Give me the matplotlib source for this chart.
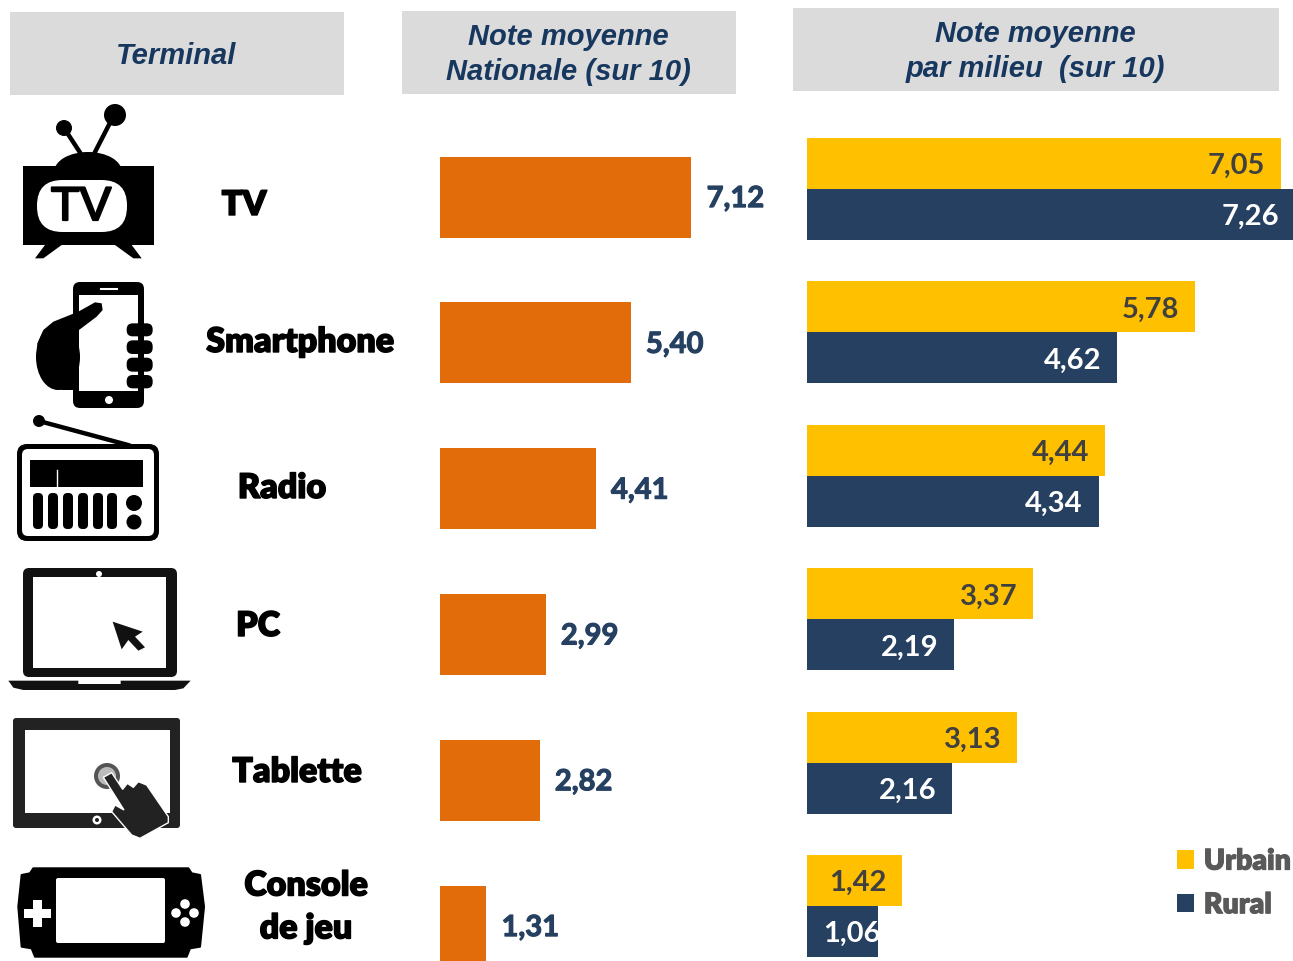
#!/usr/bin/env python3
# -*- coding: utf-8 -*-
"""Notes moyennes par terminal: national et par milieu."""

import numpy as np
import matplotlib
matplotlib.use("Agg")
import matplotlib.pyplot as plt
import matplotlib.patheffects as pe
from matplotlib.patches import Rectangle, FancyBboxPatch, Circle, Ellipse, Polygon

W, H = 1293, 961

terminals = ["TV", "Smartphone", "Radio", "PC", "Tablette", "Console\nde jeu"]
national = [7.12, 5.40, 4.41, 2.99, 2.82, 1.31]
urbain = [7.05, 5.78, 4.44, 3.37, 3.13, 1.42]
rural = [7.26, 4.62, 4.34, 2.19, 2.16, 1.06]
headers = ["Terminal", "Note moyenne\nNationale (sur 10)", "Note moyenne\npar milieu  (sur 10)"]

ORANGE = "#E36C0A"
YELLOW = "#FFC000"
NAVY = "#264061"
GREY_BG = "#DBDBDB"
HEAD_TXT = "#17375E"
FONT = "Lato"


def to_fig(ax_left, ax_right):
    return [ax_left / W, 0, (ax_right - ax_left) / W, 1]


def thick(w, color):
    return [pe.withStroke(linewidth=w, foreground=color)]


def rrect(ax, x0, y0, x1, y1, r, color, z=2):
    ax.add_patch(FancyBboxPatch((x0 + r, y0 + r), x1 - x0 - 2 * r, y1 - y0 - 2 * r,
                                boxstyle=f"round,pad={r},rounding_size={r}",
                                fc=color, ec="none", zorder=z))


# иконки рисуются в координатах пикселей, zoom = увеличенные в 3 раза
def zp(pts, oy):
    return [(x / 3, oy + y / 3) for x, y in pts]


def draw_tv(ax):
    ax.add_patch(Rectangle((23, 166), 131, 79, fc="k", zorder=2))
    ax.add_patch(Ellipse((88, 172), 68, 40, fc="k", zorder=2))
    ax.plot([81, 64], [154, 128], color="k", lw=3.2, zorder=2)
    ax.plot([94, 114], [154, 115], color="k", lw=3.2, zorder=2)
    ax.add_patch(Circle((64, 128), 8, fc="k", zorder=2))
    ax.add_patch(Circle((115, 115), 11, fc="k", zorder=2))
    ax.add_patch(Polygon(zp([(135, 450), (185, 450), (130, 490), (105, 490)], 95), fc="k", zorder=2))
    ax.add_patch(Polygon(zp([(345, 450), (395, 450), (425, 490), (400, 490)], 95), fc="k", zorder=2))
    rrect(ax, 37, 180, 127, 232, 25.5, "white", 3)
    ax.text(81, 208, "TV", fontsize=34, family="Liberation Sans", color="k",
            ha="center", va="center", zorder=4, path_effects=thick(1.6, "k"))


def draw_phone(ax):
    rrect(ax, 73, 282, 144, 408, 7, "k")
    ax.add_patch(Rectangle((79, 295), 59, 96, fc="white", zorder=3))
    ax.plot([101, 117], [289, 289], color="white", lw=1.5, zorder=3)
    ax.add_patch(Circle((109, 400), 4, fc="white", zorder=3))
    ax.add_patch(Ellipse((58, 357), 44, 66, fc="k", zorder=4))
    ax.add_patch(Polygon(zp([(235, 650), (285, 622), (305, 625), (308, 645), (290, 665),
                             (237, 705), (237, 885), (185, 885), (140, 860), (112, 800),
                             (112, 745), (130, 705), (160, 680)], 95), fc="k", zorder=4))
    for y0, y1 in [(685, 724), (736, 777), (788, 830), (840, 880)]:
        rrect(ax, 380 / 3, 95 + y0 / 3, 458 / 3, 95 + y1 / 3, 6, "k", 4)


def draw_radio(ax):
    ax.plot([39, 128], [421, 445], color="k", lw=3.2, zorder=2)
    ax.add_patch(Circle((39, 421), 6, fc="k", zorder=2))
    rrect(ax, 17, 444, 159, 541, 10, "k")
    rrect(ax, 22, 449, 154, 536, 6, "white", 3)
    ax.add_patch(Rectangle((30, 460), 113, 27, fc="k", zorder=4))
    ax.plot([57, 57], [470, 487], color="white", lw=1, zorder=5)
    for x in [38, 53, 68, 83, 98, 112]:
        rrect(ax, x - 5, 493, x + 5, 529, 4.5, "k", 4)
    ax.add_patch(Circle((134, 503), 8, fc="k", zorder=4))
    ax.add_patch(Circle((134, 522), 7.5, fc="k", zorder=4))


def draw_laptop(ax):
    rrect(ax, 23, 568, 177, 677, 6, "#111111")
    ax.add_patch(Rectangle((33, 577), 133, 91, fc="white", zorder=3))
    ax.add_patch(Circle((99, 574), 3, fc="white", zorder=4))
    ax.add_patch(Polygon(zp([(25, 812), (235, 812), (235, 822), (362, 822), (362, 812), (572, 812),
                             (550, 835), (525, 840), (70, 840), (40, 833)], 410),
                         fc="#111111", zorder=2))
    ax.add_patch(Polygon(zp([(338, 635), (428, 665), (405, 680), (435, 712), (415, 722),
                             (385, 690), (365, 718)], 410), fc="#111111", zorder=4))


def draw_tablet(ax):
    rrect(ax, 13, 718, 180, 828, 3, "#222222")
    ax.add_patch(Rectangle((25, 730), 145, 83, fc="white", zorder=3))
    ax.add_patch(Circle((97, 820), 4.5, fc="white", zorder=3))
    ax.add_patch(Circle((97, 820), 2, fc="#222222", zorder=3))
    ax.add_patch(Circle((107, 776), 13, fc="#555555", zorder=4))
    ax.add_patch(Circle((107, 776), 9, fc="#bbbbbb", zorder=4))
    ax.add_patch(Polygon(zp([(310, 232), (335, 218), (368, 268), (382, 250), (400, 262),
                             (415, 245), (440, 255), (505, 350), (505, 368), (420, 415),
                             (395, 405), (335, 335), (345, 315), (372, 330)], 700),
                         fc="#222222", ec="white", lw=1, zorder=5))


def draw_console(ax):
    ax.add_patch(Polygon(zp([(100, 505), (565, 505), (575, 520), (600, 525), (612, 620),
                             (600, 740), (570, 745), (560, 770), (105, 770), (95, 745),
                             (65, 740), (55, 620), (65, 525), (90, 520)], 700),
                         fc="k", ec="k", lw=1.5, joinstyle="round", zorder=2))
    rrect(ax, 56, 878, 165, 943, 2, "white", 3)
    ax.add_patch(Rectangle((24, 908.5), 27, 9, fc="white", zorder=3))
    ax.add_patch(Rectangle((33, 899.5), 9, 27, fc="white", zorder=3))
    for cx, cy in [(185, 904), (176, 913), (194, 913), (185, 922)]:
        ax.add_patch(Circle((cx, cy), 4.8, fc="white", zorder=3))


fig = plt.figure(figsize=(W / 100, H / 100), dpi=100, facecolor="white")

# слой в пикселях: заголовки, иконки, подписи
bg = fig.add_axes([0, 0, 1, 1])
bg.set_xlim(0, W)
bg.set_ylim(H, 0)
bg.axis("off")

for (x0, y0, x1, y1), txt in zip([(10, 12, 344, 95), (402, 11, 736, 94), (793, 8, 1279, 91)], headers):
    bg.add_patch(Rectangle((x0, y0), x1 - x0, y1 - y0, fc=GREY_BG, ec="none"))
    bg.text((x0 + x1) / 2 - 0.5, (y0 + y1) / 2 + 2, txt, fontsize=21, family="Liberation Sans",
            fontweight="bold", style="italic", color=HEAD_TXT, ha="center", va="center",
            linespacing=1.36)

for draw in [draw_tv, draw_phone, draw_radio, draw_laptop, draw_tablet, draw_console]:
    draw(bg)

label_pos = [(244, 205), (300, 342), (282, 488), (258, 626), (297, 772), (306, 907)]
for name, (lx, ly) in zip(terminals, label_pos):
    bg.text(lx, ly, name, fontsize=24.5, family=FONT, fontweight="heavy", color="k",
            ha="center", va="center", linespacing=1.42, path_effects=thick(1.0, "k"))

# левая панель: национальная нота
PX_NAT = 35.3
ax1 = fig.add_axes(to_fig(440, 800), facecolor="none")
ax1.set_xlim(0, 360 / PX_NAT)
y_step1 = 145.8
ax1.set_ylim((H - 197) / y_step1, -197 / y_step1)
y1 = np.arange(len(national))
ax1.barh(y1, national, height=81 / y_step1, color=ORANGE)
ax1.axis("off")
for y, v in zip(y1, national):
    ax1.annotate(f"{v:.2f}".replace(".", ","), (v, y), xytext=(11, -1.5), textcoords="offset points",
                 fontsize=21, family=FONT, fontweight="bold", color=NAVY, ha="left", va="center",
                 path_effects=thick(0.8, NAVY))

# правая панель: городская и сельская нота
PX_MIL = 67.2
ax2 = fig.add_axes(to_fig(807, W), facecolor="none")
ax2.set_xlim(0, (W - 807) / PX_MIL)
y_step2 = 143.4
ax2.set_ylim((H - 189) / y_step2, -189 / y_step2)
y2 = np.arange(len(urbain))
bh = 51 / y_step2
b_u = ax2.barh(y2 - bh / 2, urbain, height=bh, color=YELLOW, label="Urbain")
b_r = ax2.barh(y2 + bh / 2, rural, height=bh, color=NAVY, label="Rural")
ax2.axis("off")
for y, v in zip(y2 - bh / 2, urbain):
    ax2.annotate(f"{v:.2f}".replace(".", ","), (v, y), xytext=(-11.5, -2), textcoords="offset points",
                 fontsize=21, family=FONT, fontweight="bold", color="#404040", ha="right", va="center",
                 annotation_clip=False)
for y, v in zip(y2 + bh / 2, rural):
    off = 1.5 if v < 1.2 else -11.5  # 1,06 вылезает за край столбца
    ax2.annotate(f"{v:.2f}".replace(".", ","), (v, y), xytext=(off, -2), textcoords="offset points",
                 fontsize=21, family=FONT, fontweight="bold", color="white", ha="right", va="center",
                 annotation_clip=False)

leg = ax2.legend(handles=[b_u, b_r], loc="lower right", bbox_to_anchor=(0.996, 0.0445), frameon=False,
                 prop={"family": FONT, "weight": "heavy", "size": 20.5}, handlelength=0.62, handleheight=0.62,
                 handletextpad=0.33, labelspacing=0.62, borderpad=0, borderaxespad=0)
for t in leg.get_texts():
    t.set_color("#595959")
    t.set_path_effects(thick(0.8, "#595959"))

fig.savefig("out.png", dpi=100)
